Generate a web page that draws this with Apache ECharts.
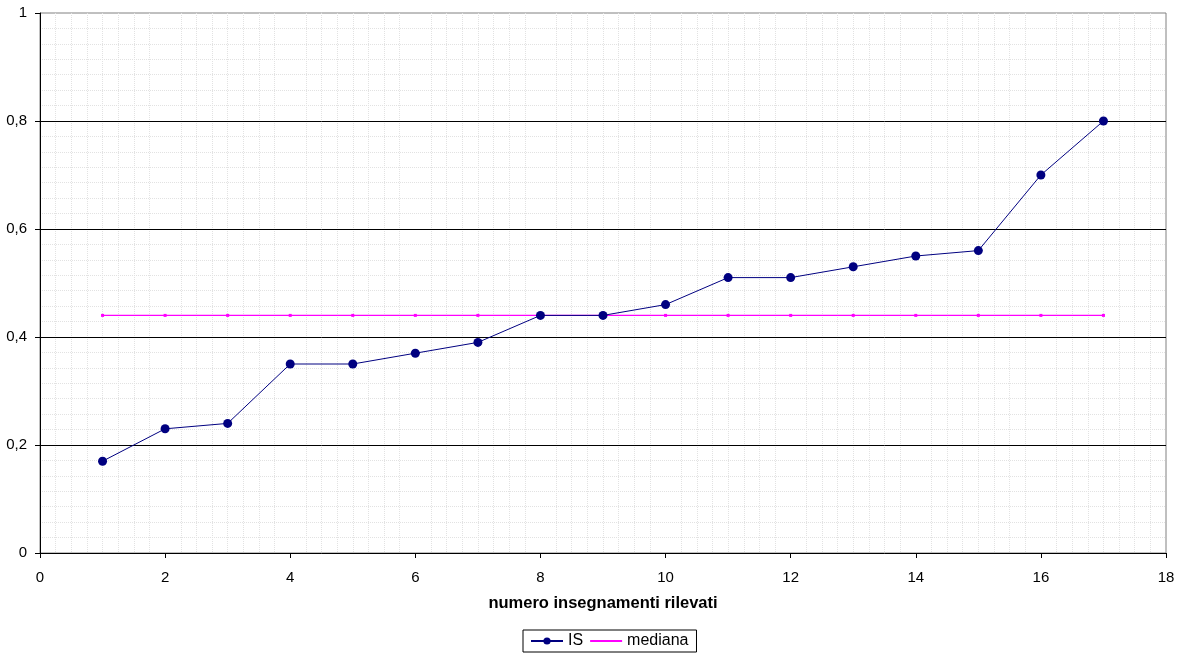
<!DOCTYPE html>
<html><head><meta charset="utf-8">
<script src="https://cdn.jsdelivr.net/npm/echarts@6/dist/echarts.min.js"></script>
<style>html,body{margin:0;padding:0;background:#fff}#c{width:1184px;height:659px}</style>
</head><body><div id="c"></div>
<script>
const xValues = [1,2,3,4,5,6,7,8,9,10,11,12,13,14,15,16,17];
const isValues = [0.17,0.23,0.24,0.35,0.35,0.37,0.39,0.44,0.44,0.46,0.51,0.51,0.53,0.55,0.56,0.70,0.80];
const medianaValues = [0.44,0.44,0.44,0.44,0.44,0.44,0.44,0.44,0.44,0.44,0.44,0.44,0.44,0.44,0.44,0.44,0.44];
const xTitle = 'numero insegnamenti rilevati';

const fmt = v => String(Math.round(v*10)/10).replace('.', ',');
const chart = echarts.init(document.getElementById('c'));
const font = 'Liberation Sans, Arial, sans-serif';
chart.setOption({
  animation:false,
  textStyle:{fontFamily:font},
  grid:{left:40,right:18,top:13,bottom:106,show:true,borderColor:'#808080',borderWidth:1},
  legend:{
    left:523,top:630,
    data:[{name:'IS'},{name:'mediana',itemStyle:{opacity:0}}],
    borderColor:'#000',borderWidth:1,borderRadius:0,
    padding:[3,8,3,7],itemGap:6,itemWidth:32,itemHeight:9,
    textStyle:{fontSize:16,color:'#000',fontFamily:font}
  },
  xAxis:{
    type:'value',min:0,max:18,interval:2,z:0,
    name:xTitle,nameLocation:'middle',nameGap:42,
    nameTextStyle:{fontWeight:'bold',fontSize:16.5,color:'#000'},
    axisLine:{show:true,lineStyle:{color:'#000',width:1}},
    axisTick:{show:true,length:5,lineStyle:{color:'#000'}},
    axisLabel:{fontSize:15,color:'#000',margin:17},
    splitLine:{show:false},
    minorTick:{show:false,splitNumber:8},
    minorSplitLine:{show:true,lineStyle:{color:'#e2e2e2',type:'dotted',width:1}}
  },
  yAxis:{
    type:'value',min:0,max:1,interval:0.2,z:1,
    axisLine:{show:true,lineStyle:{color:'#000',width:1}},
    axisTick:{show:true,length:5,lineStyle:{color:'#000'}},
    axisLabel:{fontSize:15,color:'#000',margin:13,formatter:fmt},
    splitLine:{show:true,showMaxLine:false,showMinLine:false,lineStyle:{color:'#000',width:1}},
    minorTick:{show:false,splitNumber:7},
    minorSplitLine:{show:true,lineStyle:{color:'#e2e2e2',type:'dotted',width:1}}
  },
  series:[
    {name:'mediana',type:'line',data:xValues.map((x,i)=>[x,medianaValues[i]]),
     symbol:'rect',symbolSize:3,showSymbol:true,
     itemStyle:{color:'#ff00ff'},lineStyle:{color:'#ff00ff',width:1.2},z:2},
    {name:'IS',type:'line',data:xValues.map((x,i)=>[x,isValues[i]]),
     symbol:'circle',symbolSize:9,
     itemStyle:{color:'#000080',borderWidth:0},lineStyle:{color:'#000080',width:1},z:3}
  ]
});
</script></body></html>
